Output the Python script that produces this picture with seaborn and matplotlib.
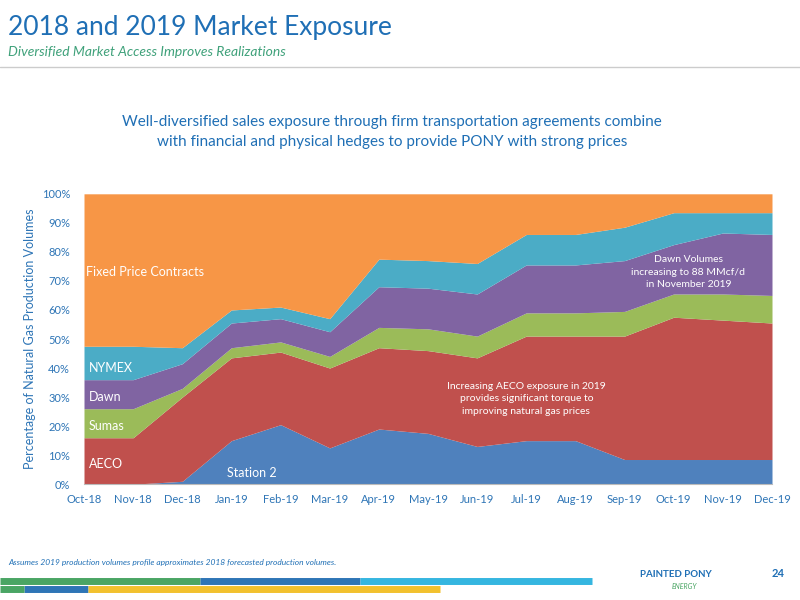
import numpy as np
import matplotlib
matplotlib.use('Agg')
import matplotlib.pyplot as plt
import seaborn as sns

# Данные (накопленные верхние границы, %)
months = ['Oct-18', 'Nov-18', 'Dec-18', 'Jan-19', 'Feb-19', 'Mar-19', 'Apr-19', 'May-19',
          'Jun-19', 'Jul-19', 'Aug-19', 'Sep-19', 'Oct-19', 'Nov-19', 'Dec-19']
station2_top = [0, 0, 1, 15, 20.5, 12.5, 19, 17.5, 13, 15, 15, 8.5, 8.5, 8.5, 8.5]
aeco_top = [16, 16, 30, 43.5, 45.5, 40, 47, 46, 43.5, 51, 51, 51, 57.5, 56.5, 55.5]
sumas_top = [26, 26, 33, 47, 49, 44, 54, 53.5, 51, 59, 59, 59.5, 65.5, 65.5, 65]
dawn_top = [36, 36, 41.5, 55.5, 57, 52.5, 68, 67.5, 65.5, 75.5, 75.5, 77, 82.5, 86.5, 86]
nymex_top = [47.5, 47.5, 47, 60, 61, 57, 77.5, 77, 76, 86, 86, 88.5, 93.5, 93.5, 93.5]

tops = [station2_top, aeco_top, sumas_top, dawn_top, nymex_top, [100] * len(months)]
colors = ['#4F81BD', '#C0504D', '#9BBB59', '#8064A2', '#4BACC6', '#F79646']

sns.set_style('white')
plt.rcParams['font.family'] = ['Lato', 'DejaVu Sans']

fig = plt.figure(figsize=(8, 6), dpi=100)
ax = fig.add_axes([0.105, 0.193, 0.86, 0.484])

x = np.arange(len(months))
cum = np.array(tops, dtype=float)
layers = np.diff(np.vstack([np.zeros(len(months)), cum]), axis=0)
ax.stackplot(x, layers, colors=colors, linewidth=0)

ax.set_xlim(0, len(months) - 1)
ax.set_ylim(0, 100)
ax.set_xticks(x)
ax.set_xticklabels(months, fontsize=8, color='#2E75B6')
ax.set_yticks(range(0, 101, 10))
ax.set_yticklabels([f'{v}%' for v in range(0, 101, 10)], fontsize=8, color='#2E75B6')
ax.set_ylabel('Percentage of Natural Gas Production Volumes', fontsize=9, color='#2E75B6')
sns.despine(ax=ax, left=True, bottom=False)
ax.spines['bottom'].set_color('#BBBBBB')
ax.tick_params(length=0)
ax.tick_params(axis='x', pad=7)
ax.tick_params(axis='y', pad=10)

# Подписи на областях
for txt, xx, yy in [('Fixed Price Contracts', 0.05, 73), ('NYMEX', 0.1, 40), ('Dawn', 0.1, 30),
                    ('Sumas', 0.1, 20), ('AECO', 0.1, 7)]:
    ax.text(xx, yy, txt, color='white', fontsize=9, va='center')
ax.text(2.9, 4, 'Station 2', color='white', fontsize=9, va='center')
ax.text(9.0, 29.5, 'Increasing AECO exposure in 2019\nprovides significant torque to\nimproving natural gas prices',
        color='white', fontsize=7.5, ha='center', va='center', linespacing=1.5)
ax.text(12.3, 73, 'Dawn Volumes\nincreasing to 88 MMcf/d\nin November 2019',
        color='white', fontsize=7.5, ha='center', va='center', linespacing=1.5)

# Заголовки
fig.text(0.01, 0.955, '2018 and 2019 Market Exposure', fontsize=19, color='#1F6FB5', va='center')
fig.text(0.01, 0.913, 'Diversified Market Access Improves Realizations', fontsize=10,
         color='#3FA17A', style='italic', va='center')
fig.add_artist(plt.Line2D([0, 1], [0.888, 0.888], color='#CCCCCC', lw=1))
fig.text(0.49, 0.78, 'Well-diversified sales exposure through firm transportation agreements combine\n'
         'with financial and physical hedges to provide PONY with strong prices',
         fontsize=11, color='#1F6FB5', ha='center', va='center', linespacing=1.5)

# Подвал
fig.text(0.01, 0.058, 'Assumes 2019 production volumes profile approximates 2018 forecasted production volumes.',
         fontsize=6, color='#1F6FB5', style='italic')
fig.text(0.965, 0.038, '24', fontsize=8, color='#1F6FB5', fontweight='bold')
fig.text(0.8, 0.038, 'PAINTED PONY', fontsize=7, color='#1F6FB5', fontweight='bold')
fig.text(0.84, 0.018, 'ENERGY', fontsize=5, color='#4AA564', style='italic')
for x0, x1, y, c in [(0.0, 0.25, 0.032, '#4AA564'), (0.25, 0.45, 0.032, '#2E75B6'),
                     (0.45, 0.74, 0.032, '#35B6E0'), (0.03, 0.11, 0.018, '#2E75B6'),
                     (0.11, 0.55, 0.018, '#F2C12E'), (0.0, 0.03, 0.018, '#4AA564')]:
    fig.add_artist(plt.Line2D([x0, x1], [y, y], color=c, lw=5, solid_capstyle='butt'))

fig.savefig('out.png', dpi=100)
